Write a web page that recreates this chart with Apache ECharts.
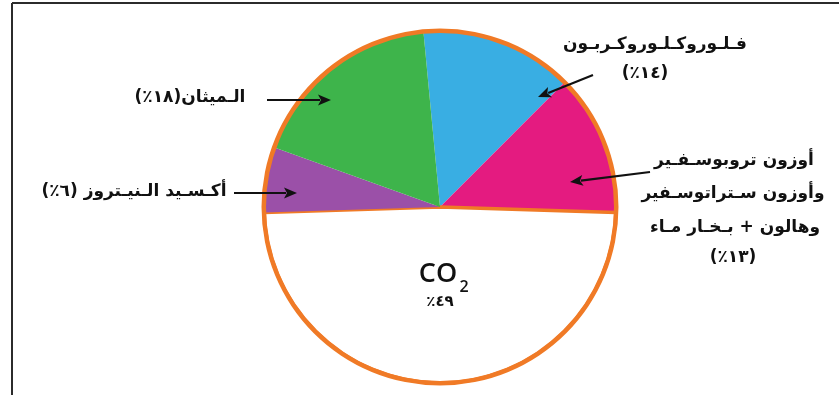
<!DOCTYPE html>
<html lang="ar">
<head>
<meta charset="utf-8">
<script src="https://cdn.jsdelivr.net/npm/echarts@6/dist/echarts.min.js"></script>
<style>
  html, body { margin: 0; padding: 0; background: #fff; }
  #chart { width: 839px; height: 395px; direction: rtl; }
</style>
</head>
<body>
<div id="chart" dir="rtl"></div>
<script>
// Greenhouse gas shares, listed clockwise from the top of the pie.
const categories = ['فلوروكلوروكربون', 'أوزون وهالون وبخار ماء', 'CO2', 'أكسيد النيتروز', 'الميثان'];
const shares = [14, 13, 49, 6, 18];
const sliceColors = ['#39aee3', '#e41b80', '#ffffff', '#9b50a8', '#3eb44b'];

// Printed names of the gases (one entry per label line).
const cfcName = ['فـلـوروكـلـوروكـربـون'];
const ozoneName = ['أوزون تروبوسـفـير', 'وأوزون سـتراتوسـفير', 'وهالون + بـخـار مـاء'];
const n2oName = 'أكـسـيد الـنيـتروز';
const ch4Name = 'الـميثان';

const rimColor = '#f07a26';
const inkColor = '#111111';
const arabicFont = '"DejaVu Sans", sans-serif';

const toArabicDigits = n => String(n).replace(/\d/g, d => '٠١٢٣٤٥٦٧٨٩'[d]);
const pct = i => toArabicDigits(shares[i]) + '٪';

const chart = echarts.init(document.getElementById('chart'), null, { renderer: 'canvas' });

const CX = 440, CY = 207, R = 176;

function text(str, x, y, font) {
  return {
    type: 'text', x: x, y: y, z: 100,
    style: {
      text: str, fill: inkColor,
      font: font || ('bold 17px ' + arabicFont),
      textAlign: 'center', textVerticalAlign: 'middle'
    }
  };
}

// Straight pointer with a filled head at (x2, y2).
function arrow(x1, y1, x2, y2) {
  const dx = x2 - x1, dy = y2 - y1, len = Math.hypot(dx, dy);
  const ux = dx / len, uy = dy / len, head = 13, half = 5.5;
  const bx = x2 - ux * head, by = y2 - uy * head;
  return [
    { type: 'line', z: 100, shape: { x1: x1, y1: y1, x2: bx + ux * 2, y2: by + uy * 2 },
      style: { stroke: inkColor, lineWidth: 2.2 } },
    { type: 'polygon', z: 100,
      shape: { points: [[x2, y2], [bx - uy * half, by + ux * half], [bx + ux * 3, by + uy * 3], [bx + uy * half, by - ux * half]] },
      style: { fill: inkColor } }
  ];
}

const option = {
  backgroundColor: '#ffffff',
  animation: false,
  series: [
    {
      type: 'pie',
      center: [CX, CY],
      radius: R,
      startAngle: 95.4,
      clockwise: true,
      silent: true,
      label: { show: false },
      labelLine: { show: false },
      data: categories.map((name, i) => ({
        name: name,
        value: shares[i],
        itemStyle: {
          color: sliceColors[i],
          borderWidth: name === 'CO2' ? 3.5 : 0,
          borderColor: rimColor
        }
      }))
    },
    {
      // orange rim around the whole disc
      type: 'pie',
      center: [CX, CY],
      radius: [R - 2, R + 2.5],
      silent: true,
      label: { show: false },
      labelLine: { show: false },
      itemStyle: { color: rimColor, borderWidth: 0 },
      data: [{ name: 'rim', value: 1 }]
    }
  ],
  graphic: {
    elements: [
      // frame
      { type: 'line', z: 100, shape: { x1: 12, y1: 3, x2: 839, y2: 3 }, style: { stroke: '#2b2b2b', lineWidth: 2 } },
      { type: 'line', z: 100, shape: { x1: 12, y1: 3, x2: 12, y2: 395 }, style: { stroke: '#2b2b2b', lineWidth: 2 } },

      // chlorofluorocarbons
      text(cfcName[0], 655, 45),
      text('(' + pct(0) + ')', 645, 74),
      ...arrow(593, 75, 538, 97),

      // ozone, halons and water vapour
      text(ozoneName[0], 734, 161),
      text(ozoneName[1], 733, 194),
      text(ozoneName[2], 735, 228),
      text('(' + pct(1) + ')', 733, 258),
      ...arrow(650, 172, 570, 182),

      // methane
      text(ch4Name + '(' + pct(4) + ')', 190, 98),
      ...arrow(267, 100, 331, 100),

      // nitrous oxide
      text(n2oName + ' (' + pct(3) + ')', 134, 192),
      ...arrow(234, 193, 297, 193),

      // carbon dioxide
      text('CO', 438, 274, '600 27px "Open Sans", sans-serif'),
      text('2', 464, 287, '600 16px "Open Sans", sans-serif'),
      text(pct(2), 440, 302, 'bold 15px ' + arabicFont)
    ]
  }
};

chart.setOption(option);
</script>
</body>
</html>
